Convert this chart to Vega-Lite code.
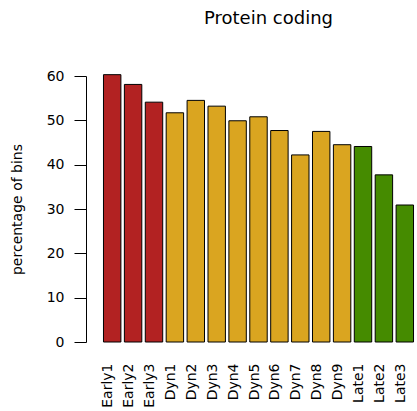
{
  "$schema": "https://vega.github.io/schema/vega-lite/v6.json",
  "autosize": "none",
  "padding": {"left": 100, "top": 76, "right": 0, "bottom": 69},
  "width": 317,
  "height": 266,
  "background": "white",
  "title": {
    "text": "Protein coding",
    "font": "DejaVu Sans",
    "fontSize": 18,
    "fontWeight": "normal",
    "color": "black",
    "anchor": "middle",
    "dx": 10,
    "offset": 41
  },
  "config": {
    "view": {"stroke": null},
    "font": "DejaVu Sans"
  },
  "data": {
    "values": [
      {"bin": "Early1", "group": "Early", "pct": 60.3},
      {"bin": "Early2", "group": "Early", "pct": 58.1},
      {"bin": "Early3", "group": "Early", "pct": 54.1},
      {"bin": "Dyn1", "group": "Dyn", "pct": 51.7},
      {"bin": "Dyn2", "group": "Dyn", "pct": 54.5},
      {"bin": "Dyn3", "group": "Dyn", "pct": 53.2},
      {"bin": "Dyn4", "group": "Dyn", "pct": 49.9},
      {"bin": "Dyn5", "group": "Dyn", "pct": 50.8},
      {"bin": "Dyn6", "group": "Dyn", "pct": 47.7},
      {"bin": "Dyn7", "group": "Dyn", "pct": 42.2},
      {"bin": "Dyn8", "group": "Dyn", "pct": 47.5},
      {"bin": "Dyn9", "group": "Dyn", "pct": 44.5},
      {"bin": "Late1", "group": "Late", "pct": 44.1},
      {"bin": "Late2", "group": "Late", "pct": 37.7},
      {"bin": "Late3", "group": "Late", "pct": 30.9}
    ]
  },
  "mark": {"type": "bar", "stroke": "black", "strokeWidth": 1, "clip": false},
  "encoding": {
    "x": {
      "field": "bin",
      "type": "nominal",
      "sort": null,
      "scale": {"paddingInner": 0.1667, "paddingOuter": 0.1667},
      "axis": {
        "title": null,
        "domain": false,
        "ticks": false,
        "labelAngle": -90,
        "labelAlign": "right",
        "labelBaseline": "alphabetic",
        "labelPadding": 21,
        "labelDx": -3,
        "labelFontSize": 14,
        "labelColor": "black",
        "labelFont": "DejaVu Sans"
      }
    },
    "y": {
      "field": "pct",
      "type": "quantitative",
      "scale": {"domain": [0, 60], "nice": false, "zero": true},
      "axis": {
        "title": "percentage of bins",
        "titleFont": "DejaVu Sans",
        "titleFontSize": 14,
        "titleFontWeight": "normal",
        "titleColor": "black",
        "titlePadding": 22,
        "values": [0, 10, 20, 30, 40, 50, 60],
        "offset": 14,
        "grid": false,
        "domainColor": "black",
        "tickColor": "black",
        "tickSize": 12,
        "labelPadding": 10,
        "labelFontSize": 14,
        "labelColor": "black",
        "labelFont": "DejaVu Sans"
      }
    },
    "fill": {
      "field": "group",
      "type": "nominal",
      "scale": {"domain": ["Early", "Dyn", "Late"], "range": ["#B22222", "#DAA520", "#458B00"]},
      "legend": null
    }
  }
}
